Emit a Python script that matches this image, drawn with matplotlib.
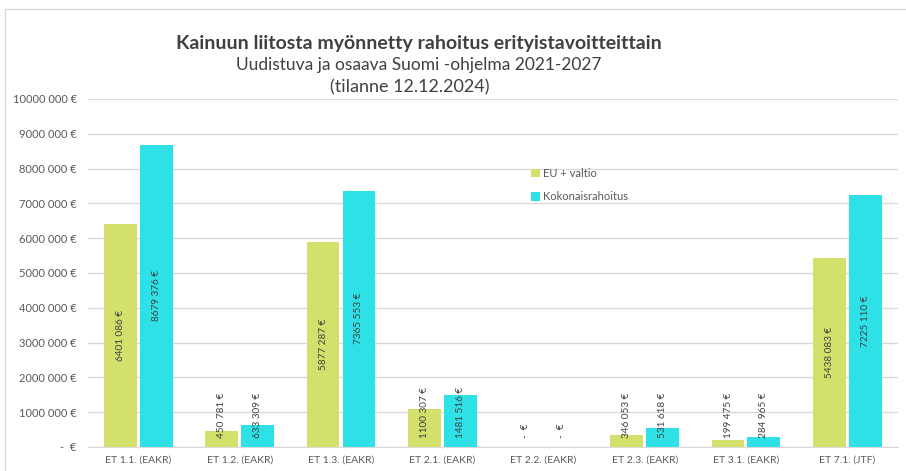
import matplotlib
matplotlib.use('Agg')
import matplotlib.pyplot as plt
from matplotlib.patches import Rectangle
import numpy as np

# Data
categories = ['ET 1.1. (EAKR)', 'ET 1.2. (EAKR)', 'ET 1.3. (EAKR)', 'ET 2.1. (EAKR)',
              'ET 2.2. (EAKR)', 'ET 2.3. (EAKR)', 'ET 3.1. (EAKR)', 'ET 7.1. (JTF)']
eu_valtio = [6401086, 450781, 5877287, 1100307, 0, 346053, 199475, 5438083]
kokonais = [8679376, 633309, 7365553, 1481516, 0, 531618, 284965, 7225110]
series_names = ['EU + valtio', 'Kokonaisrahoitus']
y_ticks = [0, 1000000, 2000000, 3000000, 4000000, 5000000, 6000000, 7000000,
           8000000, 9000000, 10000000]

GREEN = '#D3E06C'
CYAN = '#2EE1E7'
TEXT = '#595959'
GRID = '#D9D9D9'

plt.rcParams['font.family'] = ['Lato', 'DejaVu Sans']


def fmt_eur(v):
    if v == 0:
        return '-  €'
    s = str(int(v))
    # Excel-like format: last group separated, millions kept together
    if len(s) > 3:
        return f'{s[:-3]} {s[-3:]} €'
    return f'{s} €'


fig = plt.figure(figsize=(9.06, 4.71), dpi=100)
ax = fig.add_axes([0.097, 0.051, 0.894, 0.739])

x = np.arange(len(categories))
w = 0.325
gap = 0.015
b1 = ax.bar(x - w / 2 - gap, eu_valtio, w, color=GREEN, label=series_names[0], zorder=3)
b2 = ax.bar(x + w / 2 + gap, kokonais, w, color=CYAN, label=series_names[1], zorder=3)

ax.set_xlim(-0.5, len(categories) - 0.5)
ax.set_ylim(0, 10000000)
ax.set_yticks(y_ticks)
ax.set_yticklabels([fmt_eur(v) for v in y_ticks])
ax.set_xticks(x)
ax.set_xticklabels(categories)
ax.tick_params(axis='both', length=0, colors=TEXT, labelsize=7.5)
ax.tick_params(axis='y', pad=8, labelsize=8)
ax.tick_params(axis='x', pad=6)
ax.grid(axis='y', color=GRID, linewidth=1, zorder=0)
for side in ['top', 'right', 'left']:
    ax.spines[side].set_visible(False)
ax.spines['bottom'].set_color(GRID)

# data labels
for bars, vals in [(b1, eu_valtio), (b2, kokonais)]:
    for rect, v in zip(bars, vals):
        cx = rect.get_x() + rect.get_width() / 2
        if v > 2000000:
            ax.text(cx, v / 2, fmt_eur(v), rotation=90, ha='center', va='center',
                    fontsize=7.2, color='#404040', zorder=4)
        else:
            ax.text(cx, 250000, fmt_eur(v), rotation=90,
                    ha='center', va='bottom', fontsize=7.2, color='#404040', zorder=4)

leg = ax.legend(loc='upper left', bbox_to_anchor=(0.535, 0.83), frameon=False,
                fontsize=8, handlelength=0.8, handleheight=0.8, handletextpad=0.3,
                labelspacing=1.1, labelcolor=TEXT)

fig.text(0.462, 0.908, 'Kainuun liitosta myönnetty rahoitus erityistavoitteittain',
         ha='center', va='center', fontsize=14, fontweight='bold', color='#404040')
fig.text(0.462, 0.862, 'Uudistuva ja osaava Suomi -ohjelma 2021-2027',
         ha='center', va='center', fontsize=12.5, color='#404040')
fig.text(0.452, 0.815, '(tilanne 12.12.2024)',
         ha='center', va='center', fontsize=13, color='#404040')

# chart frame
fig.patches.append(Rectangle((0.006, -0.01), 1.0, 0.99, transform=fig.transFigure,
                             fill=False, edgecolor=GRID, linewidth=1))

fig.savefig('out.png', dpi=100)
